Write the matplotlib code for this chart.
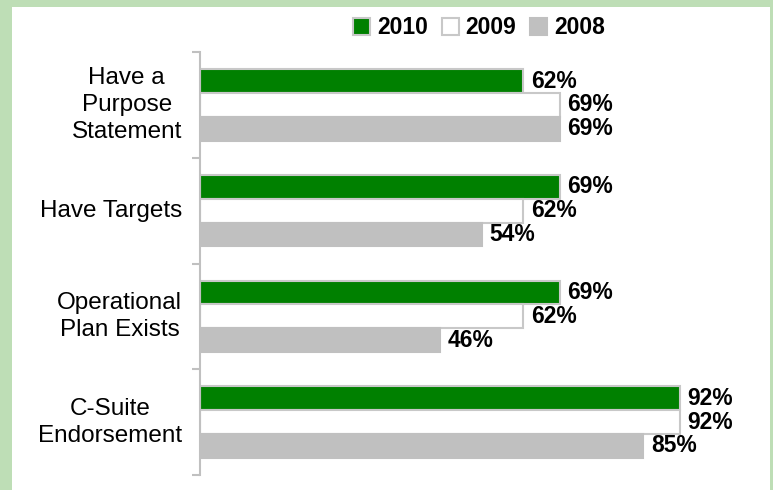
import matplotlib
matplotlib.use("Agg")
import matplotlib.pyplot as plt
from matplotlib.patches import Rectangle, Patch

plt.rcParams["font.family"] = ["Liberation Sans", "DejaVu Sans"]

categories = ["Have a\nPurpose\nStatement", "Have Targets", "Operational\nPlan Exists", "C-Suite\nEndorsement"]
series_names = ["2010", "2009", "2008"]
vals_2010 = [62, 69, 69, 92]
vals_2009 = [69, 62, 62, 92]
vals_2008 = [69, 54, 46, 85]

GREEN = "#008000"
GRAY = "#c0c0c0"
EDGE = "#c8c8c8"
BORDER = "#bedeb6"

fig = plt.figure(figsize=(7.73, 4.9), dpi=100)
fig.patch.set_facecolor(BORDER)
# white panel inside the green frame
fig.patches.append(Rectangle((12 / 773, 0), (770 - 12) / 773, (490 - 7) / 490,
                             transform=fig.transFigure, facecolor="white",
                             edgecolor="none", zorder=-1))

ax = fig.add_axes([200 / 773, 15 / 490, 521.7 / 773, 423 / 490])
ax.set_facecolor("none")
ax.set_zorder(1)

h = 0.225
ypos = list(range(len(categories)))
series = [(vals_2010, GREEN, EDGE, -h), (vals_2009, "white", EDGE, 0), (vals_2008, GRAY, GRAY, h)]
for vals, fc, ec, off in series:
    ys = [y + off for y in ypos]
    ax.barh(ys, vals, height=h, color=fc, edgecolor=ec, linewidth=1.5, zorder=2)
    for y, v in zip(ys, vals):
        ax.annotate(f"{v}%", xy=(v, y), xytext=(5.5, 0), textcoords="offset points",
                    ha="left", va="center", fontsize=16.5, fontweight="bold")

ax.set_xlim(0, 100)
ax.set_ylim(3.5, -0.5)
ax.set_xticks([])
ax.set_yticks([-0.5, 0.5, 1.5, 2.5, 3.5])
ax.set_yticklabels([])
ax.tick_params(axis="y", color=GRAY, length=6, width=1.5)
for s in ["top", "right", "bottom"]:
    ax.spines[s].set_visible(False)
ax.spines["left"].set_color(GRAY)
ax.spines["left"].set_linewidth(1.5)

for y, lab in zip(ypos, categories):
    ax.annotate(lab, xy=(0, y), xycoords=ax.get_yaxis_transform(), xytext=(-13, 0),
                textcoords="offset points", ha="right", va="center",
                multialignment="center", fontsize=17.5, linespacing=1.3)

handles = [Patch(facecolor=GREEN, edgecolor=EDGE, linewidth=1.5),
           Patch(facecolor="white", edgecolor=EDGE, linewidth=1.5),
           Patch(facecolor=GRAY, edgecolor=GRAY, linewidth=1.5)]
fig.legend(handles, series_names, loc="center", bbox_to_anchor=(479 / 773, 1 - 28 / 490),
           ncol=3, frameon=False, handlelength=0.75, handleheight=0.75,
           handletextpad=0.3, columnspacing=0.6, borderaxespad=0,
           prop={"size": 16.5, "weight": "bold"})

fig.savefig("out.png", dpi=100, facecolor=fig.get_facecolor())
